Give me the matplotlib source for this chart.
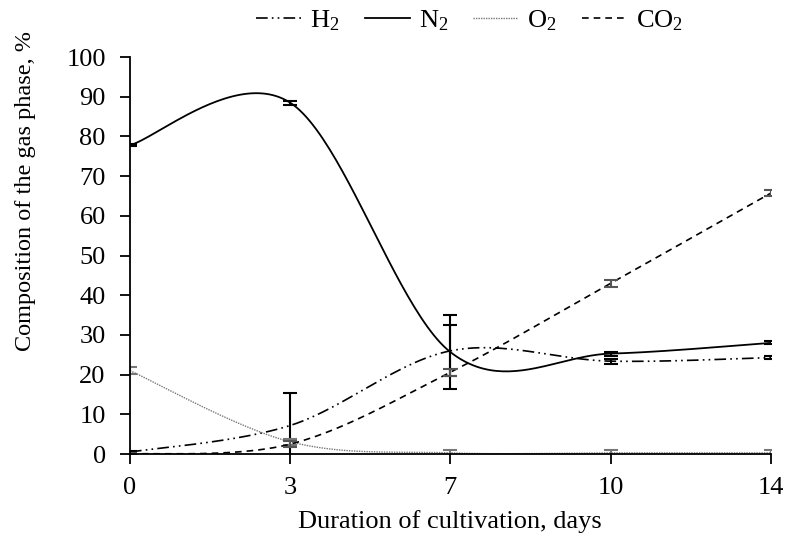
import numpy as np
import matplotlib
matplotlib.use("Agg")
import matplotlib.pyplot as plt

plt.rcParams["font.family"] = "Liberation Serif"
plt.rcParams["mathtext.fontset"] = "custom"
plt.rcParams["mathtext.rm"] = "Liberation Serif"
plt.rcParams["mathtext.it"] = "Liberation Serif:italic"

# data (x is categorical: days 0, 3, 7, 10, 14)
days = ["0", "3", "7", "10", "14"]
h2 = [0.5, 7.2, 26.0, 23.4, 24.3]
h2_err = [0.3, 8.2, 6.4, 0.6, 0.3]
n2 = [77.8, 88.5, 25.7, 25.3, 28.0]
n2_err = [0.3, 0.5, 9.4, 0.5, 0.4]
o2 = [21.0, 3.1, 0.3, 0.3, 0.3]
o2_err = [0.9, 0.7, 0.7, 0.7, 0.7]
co2 = [0.0, 2.5, 20.6, 43.0, 65.7]
co2_err = [0.3, 0.8, 0.9, 0.8, 0.8]


def excel_smooth(x, y, n=50):
    # bezier smoothing like Excel's "smoothed line"
    pts = np.column_stack([x, y]).astype(float)
    out = []
    for i in range(len(pts) - 1):
        p0 = pts[i - 1] if i > 0 else pts[i]
        p1 = pts[i]
        p2 = pts[i + 1]
        p3 = pts[i + 2] if i + 2 < len(pts) else pts[i + 1]
        c1 = p1 + (p2 - p0) / 6
        c2 = p2 - (p3 - p1) / 6
        t = np.linspace(0, 1, n)[:, None]
        seg = (1 - t) ** 3 * p1 + 3 * (1 - t) ** 2 * t * c1 + 3 * (1 - t) * t ** 2 * c2 + t ** 3 * p2
        out.append(seg if i == 0 else seg[1:])
    s = np.vstack(out)
    return s[:, 0], s[:, 1]


x = np.arange(len(days))
fig = plt.figure(figsize=(7.88, 5.38), dpi=100)
ax = fig.add_axes([0.165, 0.156, 0.813, 0.738])

series = [
    (h2, h2_err, "H$_2$", "black", (0, (7, 2.5, 1, 2.5, 1, 2.5)), 1.2, "black"),
    (n2, n2_err, "N$_2$", "black", "-", 1.3, "black"),
    (o2, o2_err, "O$_2$", "#777777", (0, (1, 0.8)), 1.0, "#777777"),
    (co2, co2_err, "CO$_2$", "black", (0, (4, 3)), 1.2, "#555555"),
]
for vals, err, lab, col, ls, lw, ecol in series:
    sx, sy = excel_smooth(x, vals)
    ax.plot(sx, sy, color=col, linestyle=ls, linewidth=lw, label=lab)
    ax.errorbar(x, vals, yerr=err, fmt="none", ecolor=ecol, elinewidth=1.5,
                capsize=5, capthick=1.5)

ax.set_xlim(0, 4)
ax.set_ylim(0, 100)
ax.set_yticks(np.arange(0, 101, 10))
ax.set_xticks(x)
ax.set_xticklabels(days)
ax.spines["top"].set_visible(False)
ax.spines["right"].set_visible(False)
ax.spines["left"].set_linewidth(1.3)
ax.spines["bottom"].set_linewidth(1.3)
ax.tick_params(direction="out", length=7.5, width=1.3, labelsize=19)
ax.tick_params(axis="x", pad=9)
ax.tick_params(axis="y", pad=10)
ax.set_xlabel("Duration of cultivation, days", fontsize=19, labelpad=8)
ax.set_ylabel("Composition of the gas phase, %", fontsize=17.5)
ax.yaxis.set_label_coords(-0.146, 0.662)

fig.legend(loc="center", bbox_to_anchor=(0.596, 0.962), ncol=4, frameon=False,
           fontsize=19, handlelength=1.7, columnspacing=0.95, handletextpad=0.35)

fig.savefig("out.png", dpi=100)
